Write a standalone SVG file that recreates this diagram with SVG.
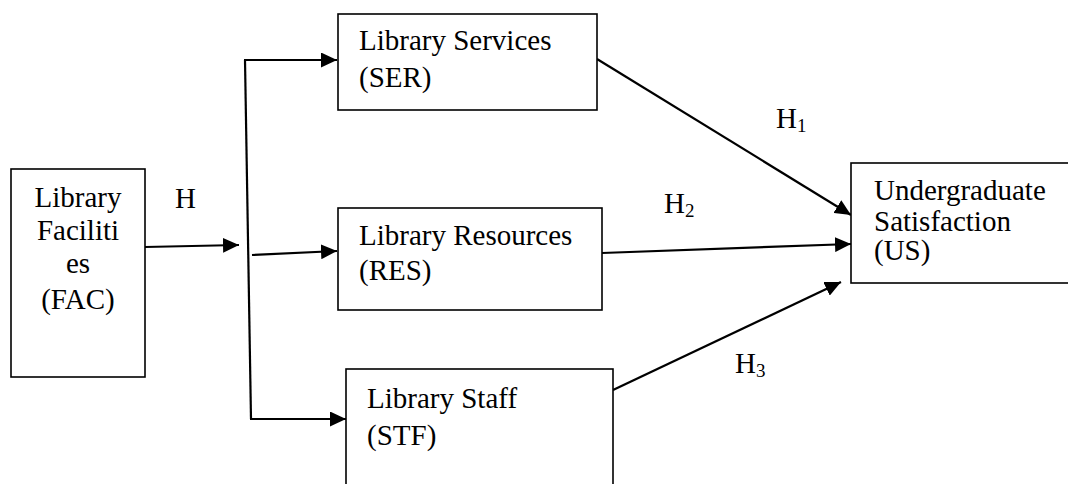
<svg xmlns="http://www.w3.org/2000/svg" width="1068" height="484" viewBox="0 0 1068 484">
<style>
.box{fill:#fff;stroke:#000;stroke-width:1.6}
text{font-family:'Liberation Serif','Times New Roman',Tinos,'DejaVu Serif',serif;font-size:29px;fill:#000}
.s{font-size:19px}
.ln{fill:none;stroke:#000;stroke-width:2.2}
</style>
<defs>
<marker id="ah" markerUnits="userSpaceOnUse" markerWidth="17" markerHeight="15" refX="16" refY="7.5" orient="auto">
<path d="M0,0 L16,7.5 L0,15 Z" fill="#000"/>
</marker>
</defs>
<rect width="1068" height="484" fill="#fff"/>
<g id="connectors">
<line class="ln" x1="145" y1="247" x2="239" y2="245" marker-end="url(#ah)"/>
<polyline class="ln" points="245,60 251,419"/>
<line class="ln" x1="244" y1="60" x2="337" y2="60" marker-end="url(#ah)"/>
<line class="ln" x1="250" y1="419" x2="346" y2="419" marker-end="url(#ah)"/>
<line class="ln" x1="252" y1="255" x2="337" y2="251" marker-end="url(#ah)"/>
<line class="ln" x1="597" y1="59" x2="851" y2="215" marker-end="url(#ah)"/>
<line class="ln" x1="602" y1="253" x2="851" y2="244" marker-end="url(#ah)"/>
<line class="ln" x1="613" y1="390" x2="841" y2="282" marker-end="url(#ah)"/>
<text x="175" y="208">H</text>
<text x="776" y="128">H<tspan class="s" dy="4">1</tspan></text>
<text x="664" y="213">H<tspan class="s" dy="4">2</tspan></text>
<text x="735" y="373">H<tspan class="s" dy="4">3</tspan></text>
</g>
<g id="FAC">
<rect class="box" x="11" y="169" width="134" height="208"/>
<text text-anchor="middle" x="78" y="207">Library</text>
<text text-anchor="middle" x="78" y="240">Faciliti</text>
<text text-anchor="middle" x="78" y="273">es</text>
<text text-anchor="middle" x="78" y="309">(FAC)</text>
</g>
<g id="SER">
<rect class="box" x="338" y="14" width="259" height="96"/>
<text x="359" y="50">Library Services</text>
<text x="359" y="87">(SER)</text>
</g>
<g id="RES">
<rect class="box" x="338" y="208" width="264" height="102"/>
<text x="359" y="245">Library Resources</text>
<text x="359" y="280">(RES)</text>
</g>
<g id="STF">
<rect class="box" x="346" y="369" width="267" height="130"/>
<text x="367" y="408">Library Staff</text>
<text x="367" y="445">(STF)</text>
</g>
<g id="US">
<rect class="box" x="851" y="163" width="230" height="120"/>
<text x="874" y="200">Undergraduate</text>
<text x="874" y="231">Satisfaction</text>
<text x="874" y="260">(US)</text>
</g>
</svg>
